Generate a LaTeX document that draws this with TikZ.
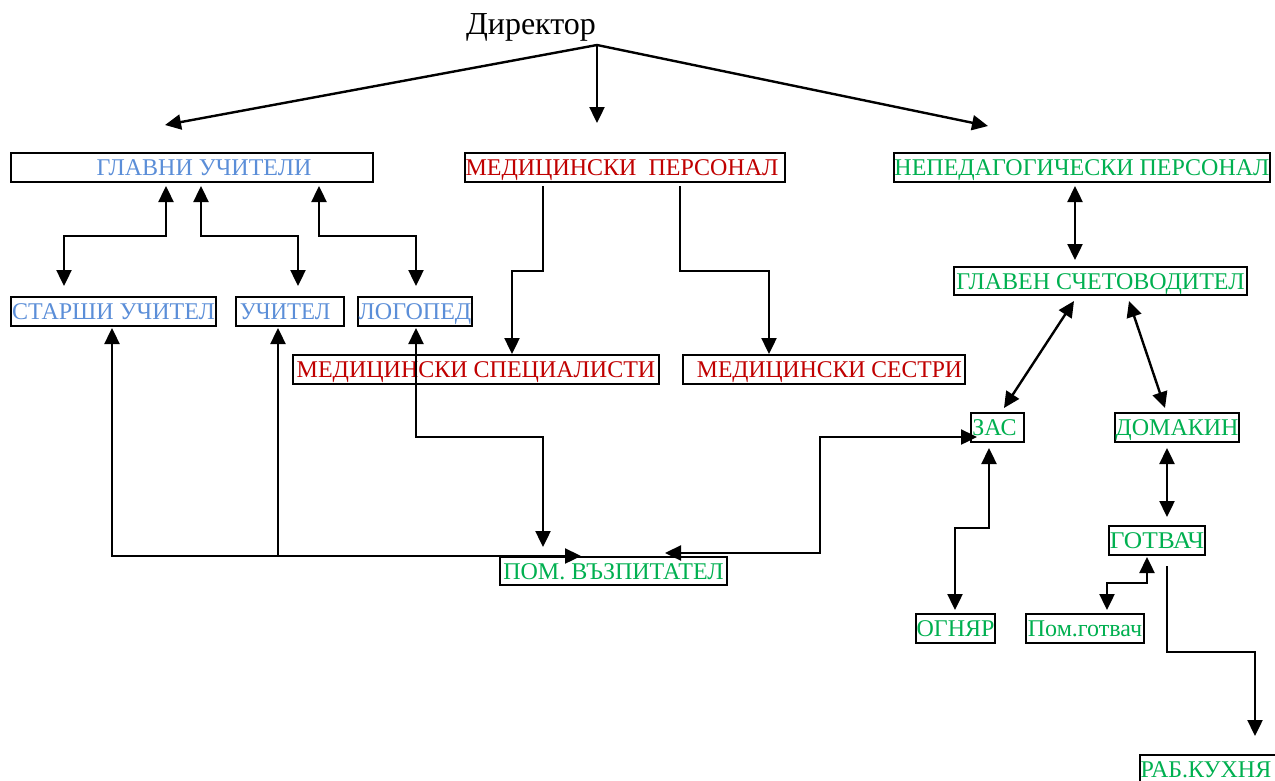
\documentclass[tikz,border=0pt]{standalone}
\usepackage{fontspec}
\setmainfont{Liberation Serif}
\usetikzlibrary{arrows.meta}
\definecolor{cblue}{HTML}{5B8ED8}
\definecolor{cred}{HTML}{C00000}
\definecolor{cgreen}{HTML}{00B050}
\tikzset{
  box/.style={draw, line width=2.6pt, inner sep=0pt, outer sep=0pt, minimum height=29pt,
    text height=16pt, text depth=0pt, font=\fontsize{24}{28}\selectfont},
  conn/.style={line width=2.4pt, -{Triangle[length=16pt,width=15pt]}},
  bconn/.style={line width=2.4pt, {Triangle[length=16pt,width=15pt]}-{Triangle[length=16pt,width=15pt]}},
}
\begin{document}
\begin{tikzpicture}[x=1pt,y=-1pt]
\clip (0,0) rectangle (1275,780);
\fill[white] (0,0) rectangle (1275,780);
% title
\node[font=\fontsize{32}{36}\selectfont, inner sep=0pt] (dir) at (531,27) {Директор};
\coordinate (dj) at (597,45);
% boxes
\node[box, text=cblue, minimum width=362pt] (gu) at (192,167.5) {\hspace*{24pt}ГЛАВНИ УЧИТЕЛИ};
\node[box, text=cred, minimum width=320pt] (mp) at (625,167.5) {МЕДИЦИНСКИ\ \ ПЕРСОНАЛ\hspace*{6pt}};
\node[box, text=cgreen, minimum width=376pt] (np) at (1082,167.5) {НЕПЕДАГОГИЧЕСКИ ПЕРСОНАЛ};
\node[box, text=cblue, minimum width=205pt] (su) at (113.5,311.5) {СТАРШИ УЧИТЕЛ};
\node[box, text=cblue, minimum width=108pt] (uc) at (290,311.5) {\scalebox{0.95}[1]{УЧИТЕЛ}\hspace*{10pt}};
\node[box, text=cblue, minimum width=114pt] (lg) at (415,311.5) {ЛОГОПЕД};
\node[box, text=cred, minimum width=366pt] (ms) at (476,369.5) {МЕДИЦИНСКИ СПЕЦИАЛИСТИ};
\node[box, text=cred, minimum width=282pt] (mc) at (824,369.5) {\hspace*{11pt}\scalebox{0.985}[1]{МЕДИЦИНСКИ СЕСТРИ}};
\node[box, text=cgreen, minimum width=293pt, minimum height=28pt] (gs) at (1100.5,281) {ГЛАВЕН СЧЕТОВОДИТЕЛ};
\node[box, text=cgreen, minimum width=53pt] (zas) at (997.5,427.5) {ЗАС\hspace*{6pt}};
\node[box, text=cgreen, minimum width=124pt] (dom) at (1177,427.5) {ДОМАКИН};
\node[box, text=cgreen, minimum width=96pt] (got) at (1157,540.5) {\scalebox{1.06}[1]{ГОТВАЧ}};
\node[box, text=cgreen, minimum width=79pt] (og) at (955.5,628.5) {ОГНЯР};
\node[box, text=cgreen, minimum width=118pt] (pg) at (1085,628.5) {Пом.готвач};
\node[box, text=cgreen, minimum width=136pt] (rk) at (1208,769.5) {РАБ.КУХНЯ\hspace*{4pt}};
\node[box, text=cgreen, minimum width=227pt, minimum height=28pt] (pv) at (613.5,571) {ПОМ. ВЪЗПИТАТЕЛ};
% connector end points
\coordinate (dL) at (165,125);
\coordinate (dM) at (597,123);
\coordinate (dR) at (988,126);
\coordinate (gu1) at (166,186);
\coordinate (gu2) at (201,186);
\coordinate (gu3) at (319,186);
\coordinate (su1) at (64,286);
\coordinate (uc1) at (298,286);
\coordinate (lg1) at (416,286);
\coordinate (mp1) at (543,186);
\coordinate (mp2) at (680,186);
\coordinate (ms1) at (512,354);
\coordinate (mc1) at (769,354);
\coordinate (su2) at (112,328);
\coordinate (uc2) at (278,328);
\coordinate (lg2) at (416,328);
\coordinate (uc3) at (278,556);
\coordinate (pv1) at (581,556);
\coordinate (pv2) at (543,547);
\coordinate (pv3) at (665,553);
\coordinate (zas1) at (977,437);
\coordinate (np1) at (1075,186);
\coordinate (gs1) at (1075,260);
\coordinate (gs2) at (1074,301);
\coordinate (gs3) at (1129,301);
\coordinate (zas2) at (1004,408);
\coordinate (dom1) at (1165,408);
\coordinate (zas3) at (989,448);
\coordinate (og1) at (955,610);
\coordinate (dom2) at (1167,448);
\coordinate (got1) at (1167,517);
\coordinate (got2) at (1147,557);
\coordinate (pg1) at (1107,610);
\coordinate (got3) at (1167,566);
\coordinate (rk1) at (1255,736);
% connectors
\draw[conn] (dj) -- (dL);
\draw[conn] (dj) -- (dM);
\draw[conn] (dj) -- (dR);
\draw[bconn] (gu1) |- (64,236) -- (su1);
\draw[bconn] (gu2) |- (298,236) -- (uc1);
\draw[bconn] (gu3) |- (416,236) -- (lg1);
\draw[conn] (mp1) |- (512,271) -- (ms1);
\draw[conn] (mp2) |- (769,271) -- (mc1);
\draw[bconn] (pv1) -| (su2);
\draw[conn] (uc3) -- (uc2);
\draw[bconn] (lg2) |- (543,437) -- (pv2);
\draw[bconn] (zas1) -| (820,553) -- (pv3);
\draw[bconn] (np1) -- (gs1);
\draw[bconn] (gs2) -- (zas2);
\draw[bconn] (gs3) -- (dom1);
\draw[bconn] (zas3) |- (955,528) -- (og1);
\draw[bconn] (dom2) -- (got1);
\draw[bconn] (got2) |- (1107,583) -- (pg1);
\draw[conn] (got3) |- (1255,652) -- (rk1);
\end{tikzpicture}
\end{document}
